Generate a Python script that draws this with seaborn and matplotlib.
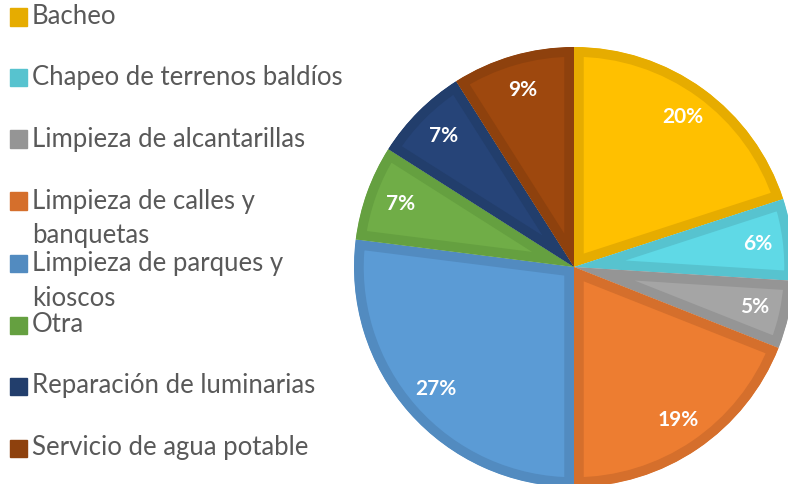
import seaborn as sns
import matplotlib.pyplot as plt
from matplotlib.patches import Rectangle

categories = ["Bacheo", "Chapeo de terrenos baldíos", "Limpieza de alcantarillas",
              "Limpieza de calles y\nbanquetas", "Limpieza de parques y\nkioscos",
              "Otra", "Reparación de luminarias", "Servicio de agua potable"]
values = [20, 6, 5, 19, 27, 7, 7, 9]
fill_colors = ["#FFC000", "#5FD9E6", "#A5A5A5", "#ED7D31", "#5B9BD5", "#70AD47", "#264478", "#9E480E"]
edge_colors = ["#E6AC00", "#57C3CF", "#959595", "#D56F2C", "#528BC0", "#65A040", "#223E6C", "#8E410D"]

sns.set_theme(style="white")
plt.rcParams["font.family"] = ["Lato", "DejaVu Sans"]

W, H = 788, 484
fig = plt.figure(figsize=(W / 100, H / 100), dpi=100)

# pie axes: center (574, 267) px, radius 220 px
cx, cy, r = 574, 267, 220
ax = fig.add_axes([(cx - r) / W, (H - cy - r) / H, 2 * r / W, 2 * r / H])
wedges, texts, autotexts = ax.pie(
    values, colors=fill_colors, startangle=90, counterclock=False,
    autopct=lambda p: f"{p:.0f}%", pctdistance=0.84,
    wedgeprops=dict(linewidth=14, joinstyle="round"),
    textprops=dict(color="white", fontsize=15, fontweight="bold"))
ax.set_xlim(-1, 1)
ax.set_ylim(-1, 1)
ax.set_aspect("equal")
ax.axis("off")
for w, ec in zip(wedges, edge_colors):
    w.set_edgecolor(ec)
    # pie turns clipping off; turn it on so the border stays inside its own slice
    w.set_clip_on(True)
    w.set_clip_path(w)

# legend drawn on the left
row_y = [17, 78, 139, 201, 263, 325, 386, 448]
line_gap = 35
for cat, ec, y in zip(categories, edge_colors, row_y):
    fig.patches.append(Rectangle((10 / W, 1 - (y + 8.5) / H), 17 / W, 17 / H,
                                 transform=fig.transFigure, color=ec))
    for i, line in enumerate(cat.split("\n")):
        fig.text(32 / W, 1 - (y + i * line_gap) / H, line, fontsize=18.5,
                 color="#595959", va="center", ha="left")

fig.savefig("out.png", dpi=100)
